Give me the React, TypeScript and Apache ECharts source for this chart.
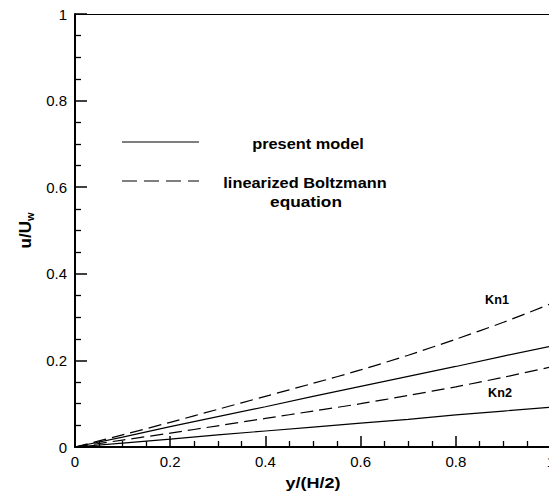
import React, { useEffect, useRef } from "react";
import * as echarts from "echarts";

const xValues = [0, 0.1, 0.2, 0.3, 0.4, 0.5, 0.6, 0.7, 0.8, 0.9, 1.0];
const kn1Present = [0, 0.023, 0.047, 0.07, 0.093, 0.117, 0.14, 0.163, 0.186, 0.21, 0.233];
const kn1Boltzmann = [0, 0.028, 0.057, 0.087, 0.117, 0.147, 0.178, 0.212, 0.249, 0.288, 0.331];
const kn2Present = [0, 0.009, 0.018, 0.028, 0.037, 0.046, 0.055, 0.064, 0.074, 0.083, 0.092];
const kn2Boltzmann = [0, 0.016, 0.032, 0.049, 0.066, 0.083, 0.1, 0.119, 0.139, 0.161, 0.185];
const legendLabels = ["present model", "linearized Boltzmann", "equation"];
const curveLabels = ["Kn1", "Kn2"];
const xTitle = "y/(H/2)";

const FONT = "'Liberation Sans', Arial, Helvetica, sans-serif";

const pairs = (ys: number[]) => xValues.map((x, i) => [x, ys[i]]);
const fmt = (v: number) => (Math.abs(v - Math.round(v)) < 1e-9 ? String(Math.round(v)) : String(+v.toFixed(1)));

export default function App() {
  const ref = useRef<HTMLDivElement>(null);
  useEffect(() => {
    if (!ref.current) return;
    const chart = echarts.init(ref.current, null, { renderer: "svg" });
    const solid = { color: "#000", width: 1.2, type: "solid" as const };
    const dashed = { color: "#000", width: 1.2, type: [13, 6] as any };
    const boldText = (text: string, x: number, y: number, size: number, sx: number) => ({
      type: "text",
      x,
      y,
      scaleX: sx,
      z: 10,
      style: { text, font: `bold ${size}px ${FONT}`, fill: "#000", align: "center", verticalAlign: "middle" },
    });
    chart.setOption({
      animation: false,
      backgroundColor: "#fff",
      grid: { left: 75, top: 14, right: -2, bottom: 47, containLabel: false, outerBoundsMode: "none" },
      xAxis: [
        {
          type: "value",
          min: 0,
          max: 1,
          interval: 0.2,
          position: "bottom",
          axisLine: { show: true, onZero: false, lineStyle: { color: "#000", width: 2 } },
          axisTick: { show: true, inside: true, length: 11, lineStyle: { color: "#000", width: 1.5 } },
          minorTick: { show: true, splitNumber: 4, length: 6, lineStyle: { color: "#000", width: 1.3 } },
          axisLabel: { fontFamily: FONT, fontSize: 15, color: "#000", margin: 7, formatter: fmt },
          splitLine: { show: false },
          minorSplitLine: { show: false },
        },
        {
          type: "value",
          min: 0,
          max: 1,
          position: "top",
          axisLine: { show: true, onZero: false, lineStyle: { color: "#000", width: 1.2 } },
          axisTick: { show: false },
          axisLabel: { show: false },
          splitLine: { show: false },
        },
      ],
      yAxis: {
        type: "value",
        min: 0,
        max: 1,
        interval: 0.2,
        name: "{m|u/U}{s|w}",
        nameLocation: "middle",
        nameGap: 38,
        nameTextStyle: {
          fontFamily: FONT,
          color: "#000",
          rich: {
            m: { fontFamily: FONT, fontSize: 17, fontWeight: "bold", color: "#000" },
            s: { fontFamily: FONT, fontSize: 11, fontWeight: "bold", color: "#000", padding: [8, 0, 0, 0] },
          },
        },
        axisLine: { show: true, onZero: false, lineStyle: { color: "#000", width: 2 } },
        axisTick: { show: true, inside: true, length: 12, lineStyle: { color: "#000", width: 1.5 } },
        minorTick: { show: true, splitNumber: 4, length: 6, lineStyle: { color: "#000", width: 1.3 } },
        axisLabel: { fontFamily: FONT, fontSize: 15, color: "#000", margin: 8, formatter: fmt },
        splitLine: { show: false },
        minorSplitLine: { show: false },
      },
      series: [
        { name: "Kn1 present", type: "line", data: pairs(kn1Present), showSymbol: false, lineStyle: solid, z: 3 },
        { name: "Kn1 Boltzmann", type: "line", data: pairs(kn1Boltzmann), showSymbol: false, smooth: 0.3, lineStyle: dashed, z: 3 },
        { name: "Kn2 present", type: "line", data: pairs(kn2Present), showSymbol: false, lineStyle: solid, z: 3 },
        { name: "Kn2 Boltzmann", type: "line", data: pairs(kn2Boltzmann), showSymbol: false, smooth: 0.3, lineStyle: dashed, z: 3 },
      ],
      graphic: [
        { type: "line", z: 10, shape: { x1: 122, y1: 142, x2: 199, y2: 142 }, style: { stroke: "#000", lineWidth: 1.2 } },
        boldText(legendLabels[0], 308, 144, 15, 1.09),
        { type: "line", z: 10, shape: { x1: 122, y1: 181, x2: 199, y2: 181 }, style: { stroke: "#000", lineWidth: 1.2, lineDash: [15, 7] } },
        boldText(legendLabels[1], 305, 183, 15, 1.09),
        boldText(legendLabels[2], 306, 201, 15, 1.15),
        boldText(curveLabels[0], 497, 300, 12, 1.05),
        boldText(curveLabels[1], 500, 393, 12, 1.05),
        boldText(xTitle, 313, 483, 15, 1.2),
      ],
    });
    return () => chart.dispose();
  }, []);
  return <div ref={ref} style={{ width: 549, height: 494, position: "absolute", left: 0, top: 0 }} />;
}
